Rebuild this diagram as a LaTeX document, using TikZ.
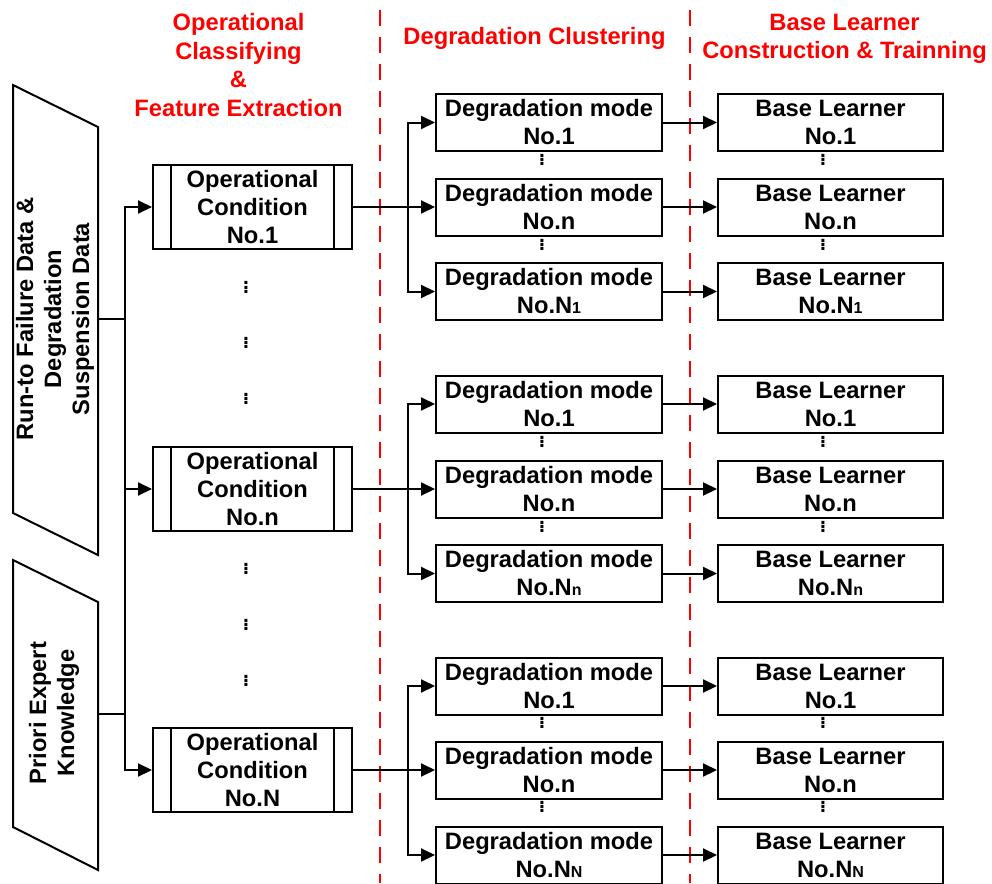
\documentclass[tikz,border=0pt]{standalone}
\usepackage{fontspec}
\setmainfont{Liberation Sans}
\usetikzlibrary{arrows.meta}
\newcommand{\boxfont}{\bfseries\fontsize{23.7}{28}\selectfont}
\newcommand{\idx}[1]{{\fontsize{16}{16}\selectfont #1}}
\newcommand{\colldots}{\vbox{\baselineskip4.2pt\lineskiplimit0pt\hbox{.}\hbox{.}\hbox{.}}}

\begin{document}
\begin{tikzpicture}[x=1pt, y=-1pt,
        conn/.style={line width=2pt, line cap=rect},
        arr/.style={line width=2pt, -{Triangle[length=14pt, width=13pt]}},
        opbox/.style={draw, line width=2pt, minimum width=199pt, minimum height=84pt, inner sep=0pt, align=center, font=\boxfont,
            path picture={\draw[line width=2pt]
                ([xshift=18pt]path picture bounding box.north west) -- ([xshift=18pt]path picture bounding box.south west)
                ([xshift=-18pt]path picture bounding box.north east) -- ([xshift=-18pt]path picture bounding box.south east);}},
        dmbox/.style={draw, line width=2pt, minimum width=226pt, minimum height=57pt, inner sep=0pt, align=center, font=\boxfont},
        blbox/.style={dmbox, minimum width=225pt},
        head/.style={text=red, align=center, font=\bfseries\fontsize{23.7}{28.7}\selectfont},
        divider/.style={red, line width=2.5pt, dash pattern=on 16pt off 11pt},
        vdotmark/.style={inner sep=0pt, font=\bfseries\fontsize{21}{21}\selectfont}]
        \useasboundingbox (0,0) rectangle (992,883);

        % column titles and dividers
        \node[head] at (238.5, 65)  (head_op)  {Operational\\Classifying\\\&\\Feature Extraction};
        \node[head] at (534.5, 38)  (head_dm)  {Degradation Clustering};
        \node[head] at (844.5, 39)  (head_bl)  {Base Learner\\Construction \& Trainning};
        \draw[divider] (380,-17) -- (380,883);
        \draw[divider] (690,-17) -- (690,883);

        % input data
        \draw[conn] (13,85) -- (98,127) -- (98,555) -- (13,513) -- cycle;
        \node[rotate=90, align=center, font=\boxfont] at (55, 319)  (run_data)    {Run-to Failure Data \&\\Degradation\\Suspension Data};
        \draw[conn] (13,560) -- (98,602) -- (98,870) -- (13,827) -- cycle;
        \node[rotate=90, align=center, font=\boxfont] at (54, 713)  (prior_know)  {Priori Expert\\Knowledge};
        \coordinate (run_out)   at (98, 319);
        \coordinate (prior_out) at (98, 714);
        \coordinate (trunk_op)  at (125, 0);
        \coordinate (trunk_dm)  at (408, 0);

        % operational conditions
        \node[opbox] at (252.5, 207)  (op_1)    {Operational\\Condition\\No.1};
        \node[opbox] at (252.5, 489)  (op_n)    {Operational\\Condition\\No.n};
        \node[opbox] at (252.5, 770)  (op_N)    {Operational\\Condition\\No.N};
        \node[vdotmark] at (246, 287.5)  (dots_op1)  {\colldots};
        \node[vdotmark] at (246, 343)    (dots_op2)  {\colldots};
        \node[vdotmark] at (246, 399)    (dots_op3)  {\colldots};
        \node[vdotmark] at (246, 569)    (dots_op4)  {\colldots};
        \node[vdotmark] at (246, 625)    (dots_op5)  {\colldots};
        \node[vdotmark] at (246, 681)    (dots_op6)  {\colldots};

        % degradation modes
        \node[dmbox] at (549, 122.5)  (dm_11)   {Degradation mode\\No.1};
        \node[dmbox] at (549, 207)    (dm_1n)   {Degradation mode\\No.n};
        \node[dmbox] at (549, 291.5)  (dm_1N)   {Degradation mode\\No.N\idx{1}};
        \node[dmbox] at (549, 404)    (dm_n1)   {Degradation mode\\No.1};
        \node[dmbox] at (549, 489)    (dm_nn)   {Degradation mode\\No.n};
        \node[dmbox] at (549, 573.5)  (dm_nN)   {Degradation mode\\No.N\idx{n}};
        \node[dmbox] at (549, 686)    (dm_N1)   {Degradation mode\\No.1};
        \node[dmbox] at (549, 770)    (dm_Nn)   {Degradation mode\\No.n};
        \node[dmbox] at (549, 855)    (dm_NN)   {Degradation mode\\No.N\idx{N}};
        \node[vdotmark] at (542, 160)  (dots_dm1)  {\colldots};
        \node[vdotmark] at (542, 245)  (dots_dm2)  {\colldots};
        \node[vdotmark] at (542, 442)  (dots_dm3)  {\colldots};
        \node[vdotmark] at (542, 527)  (dots_dm4)  {\colldots};
        \node[vdotmark] at (542, 723)  (dots_dm5)  {\colldots};
        \node[vdotmark] at (542, 807)  (dots_dm6)  {\colldots};

        % base learners
        \node[blbox] at (830.5, 122.5)  (bl_11)   {Base Learner\\No.1};
        \node[blbox] at (830.5, 207)    (bl_1n)   {Base Learner\\No.n};
        \node[blbox] at (830.5, 291.5)  (bl_1N)   {Base Learner\\No.N\idx{1}};
        \node[blbox] at (830.5, 404)    (bl_n1)   {Base Learner\\No.1};
        \node[blbox] at (830.5, 489)    (bl_nn)   {Base Learner\\No.n};
        \node[blbox] at (830.5, 573.5)  (bl_nN)   {Base Learner\\No.N\idx{n}};
        \node[blbox] at (830.5, 686)    (bl_N1)   {Base Learner\\No.1};
        \node[blbox] at (830.5, 770)    (bl_Nn)   {Base Learner\\No.n};
        \node[blbox] at (830.5, 855)    (bl_NN)   {Base Learner\\No.N\idx{N}};
        \node[vdotmark] at (823, 160)  (dots_bl1)  {\colldots};
        \node[vdotmark] at (823, 245)  (dots_bl2)  {\colldots};
        \node[vdotmark] at (823, 442)  (dots_bl3)  {\colldots};
        \node[vdotmark] at (823, 527)  (dots_bl4)  {\colldots};
        \node[vdotmark] at (823, 723)  (dots_bl5)  {\colldots};
        \node[vdotmark] at (823, 807)  (dots_bl6)  {\colldots};

        % data to operational conditions
        \draw[conn] (run_out) -- (run_out -| trunk_op);
        \draw[conn] (prior_out) -- (prior_out -| trunk_op);
        \draw[conn] (trunk_op |- op_1) -- (trunk_op |- op_N);
        \draw[arr]  (trunk_op |- op_1) -- (op_1);
        \draw[arr]  (trunk_op |- op_n) -- (op_n);
        \draw[arr]  (trunk_op |- op_N) -- (op_N);

        % operational conditions to degradation modes
        \draw[arr]  (op_1) -- (dm_1n);
        \draw[conn] (trunk_dm |- dm_11) -- (trunk_dm |- dm_1N);
        \draw[arr]  (trunk_dm |- dm_11) -- (dm_11);
        \draw[arr]  (trunk_dm |- dm_1N) -- (dm_1N);
        \draw[arr]  (op_n) -- (dm_nn);
        \draw[conn] (trunk_dm |- dm_n1) -- (trunk_dm |- dm_nN);
        \draw[arr]  (trunk_dm |- dm_n1) -- (dm_n1);
        \draw[arr]  (trunk_dm |- dm_nN) -- (dm_nN);
        \draw[arr]  (op_N) -- (dm_Nn);
        \draw[conn] (trunk_dm |- dm_N1) -- (trunk_dm |- dm_NN);
        \draw[arr]  (trunk_dm |- dm_N1) -- (dm_N1);
        \draw[arr]  (trunk_dm |- dm_NN) -- (dm_NN);

        % degradation modes to base learners
        \draw[arr]  (dm_11) -- (bl_11);
        \draw[arr]  (dm_1n) -- (bl_1n);
        \draw[arr]  (dm_1N) -- (bl_1N);
        \draw[arr]  (dm_n1) -- (bl_n1);
        \draw[arr]  (dm_nn) -- (bl_nn);
        \draw[arr]  (dm_nN) -- (bl_nN);
        \draw[arr]  (dm_N1) -- (bl_N1);
        \draw[arr]  (dm_Nn) -- (bl_Nn);
        \draw[arr]  (dm_NN) -- (bl_NN);
    \end{tikzpicture}
\end{document}
